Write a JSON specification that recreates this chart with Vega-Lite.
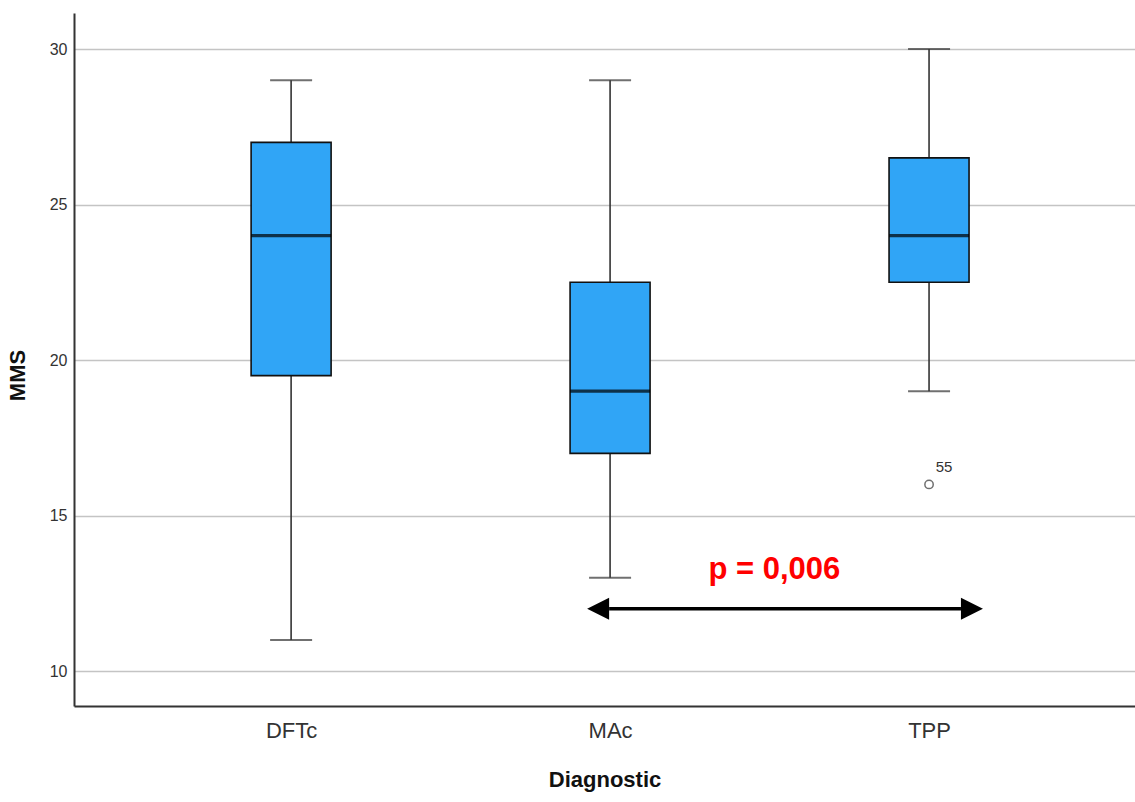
{
  "$schema": "https://vega.github.io/schema/vega-lite/v6.json",
  "width": 1061,
  "height": 693,
  "autosize": {"type": "none"},
  "padding": {"left": 74, "top": 13, "right": 0, "bottom": 96},
  "background": "white",
  "config": {
    "view": {"stroke": null},
    "font": "Liberation Sans"
  },
  "datasets": {
    "stats": [
      {"Diagnostic": "DFTc", "pos": 1, "lower": 11, "q1": 19.5, "median": 24, "q3": 27, "upper": 29},
      {"Diagnostic": "MAc", "pos": 2, "lower": 13, "q1": 17, "median": 19, "q3": 22.5, "upper": 29},
      {"Diagnostic": "TPP", "pos": 3, "lower": 19, "q1": 22.5, "median": 24, "q3": 26.5, "upper": 30}
    ],
    "outliers": [
      {"Diagnostic": "TPP", "pos": 3, "MMS": 16, "case": "55"}
    ],
    "comparison": [
      {"start": 1.997, "end": 3.1, "MMS": 12, "labelPos": 2.515, "labelMMS": 12.96, "label": "p = 0,006"}
    ]
  },
  "layer": [
    {
      "data": {"name": "stats"},
      "mark": {"type": "rule", "color": "#333333", "strokeWidth": 1.6},
      "encoding": {
        "x": {
          "field": "pos", "type": "quantitative",
          "scale": {"domain": [0.335, 3.63], "nice": false, "zero": false},
          "axis": {
            "title": "Diagnostic",
            "values": [1, 2, 3],
            "labelExpr": "datum.value == 1 ? 'DFTc' : datum.value == 2 ? 'MAc' : 'TPP'",
            "grid": false,
            "ticks": false,
            "domainColor": "#333333",
            "domainWidth": 2,
            "labelFontSize": 22,
            "labelColor": "#333333",
            "labelPadding": 14,
            "titleFontSize": 22,
            "titleFontWeight": "bold",
            "titleColor": "#111111",
            "titlePadding": 28
          }
        },
        "y": {
          "field": "lower", "type": "quantitative",
          "scale": {"domain": [8.875, 31.16], "nice": false, "zero": false},
          "axis": {
            "title": "MMS",
            "values": [10, 15, 20, 25, 30],
            "grid": true,
            "gridColor": "#c4c4c4",
            "gridWidth": 1.6,
            "ticks": false,
            "domainColor": "#333333",
            "domainWidth": 2,
            "labelFontSize": 16,
            "labelColor": "#333333",
            "labelPadding": 7,
            "titleFontSize": 22,
            "titleFontWeight": "bold",
            "titleColor": "#111111",
            "titlePadding": 20,
            "titleY": 362
          }
        },
        "y2": {"field": "upper"}
      }
    },
    {
      "data": {"name": "stats"},
      "mark": {"type": "tick", "orient": "horizontal", "color": "#333333", "size": 42, "thickness": 2},
      "encoding": {
        "x": {"field": "pos", "type": "quantitative"},
        "y": {"field": "lower", "type": "quantitative"}
      }
    },
    {
      "data": {"name": "stats"},
      "mark": {"type": "tick", "orient": "horizontal", "color": "#333333", "size": 42, "thickness": 2},
      "encoding": {
        "x": {"field": "pos", "type": "quantitative"},
        "y": {"field": "upper", "type": "quantitative"}
      }
    },
    {
      "data": {"name": "stats"},
      "mark": {"type": "bar", "size": 80, "fill": "#30A5F6", "stroke": "#111111", "strokeWidth": 1.6},
      "encoding": {
        "x": {"field": "pos", "type": "quantitative"},
        "y": {"field": "q1", "type": "quantitative"},
        "y2": {"field": "q3"}
      }
    },
    {
      "data": {"name": "stats"},
      "mark": {"type": "tick", "orient": "horizontal", "color": "#000000", "size": 80, "thickness": 3.2},
      "encoding": {
        "x": {"field": "pos", "type": "quantitative"},
        "y": {"field": "median", "type": "quantitative"}
      }
    },
    {
      "data": {"name": "outliers"},
      "mark": {"type": "point", "shape": "circle", "filled": false, "size": 70, "stroke": "#333333", "strokeWidth": 1.5},
      "encoding": {
        "x": {"field": "pos", "type": "quantitative"},
        "y": {"field": "MMS", "type": "quantitative"}
      }
    },
    {
      "data": {"name": "outliers"},
      "mark": {"type": "text", "dx": 15, "dy": -17, "fontSize": 15, "color": "#333333"},
      "encoding": {
        "x": {"field": "pos", "type": "quantitative"},
        "y": {"field": "MMS", "type": "quantitative"},
        "text": {"field": "case"}
      }
    },
    {
      "data": {"name": "comparison"},
      "mark": {"type": "rule", "color": "#000000", "strokeWidth": 3.5},
      "encoding": {
        "x": {"field": "start", "type": "quantitative"},
        "x2": {"field": "end"},
        "y": {"field": "MMS", "type": "quantitative"}
      }
    },
    {
      "data": {"name": "comparison"},
      "mark": {"type": "point", "shape": "M -2 0 L 0 -1 L 0 1 Z", "filled": true, "color": "#000000", "opacity": 1, "size": 484},
      "encoding": {
        "x": {"field": "start", "type": "quantitative"},
        "y": {"field": "MMS", "type": "quantitative"}
      }
    },
    {
      "data": {"name": "comparison"},
      "mark": {"type": "point", "shape": "M 2 0 L 0 -1 L 0 1 Z", "filled": true, "color": "#000000", "opacity": 1, "size": 484},
      "encoding": {
        "x": {"field": "end", "type": "quantitative"},
        "y": {"field": "MMS", "type": "quantitative"}
      }
    },
    {
      "data": {"name": "comparison"},
      "mark": {"type": "text", "color": "#FF0000", "fontSize": 31, "fontWeight": "bold", "align": "center", "baseline": "alphabetic"},
      "encoding": {
        "x": {"field": "labelPos", "type": "quantitative"},
        "y": {"field": "labelMMS", "type": "quantitative"},
        "text": {"field": "label"}
      }
    }
  ]
}
